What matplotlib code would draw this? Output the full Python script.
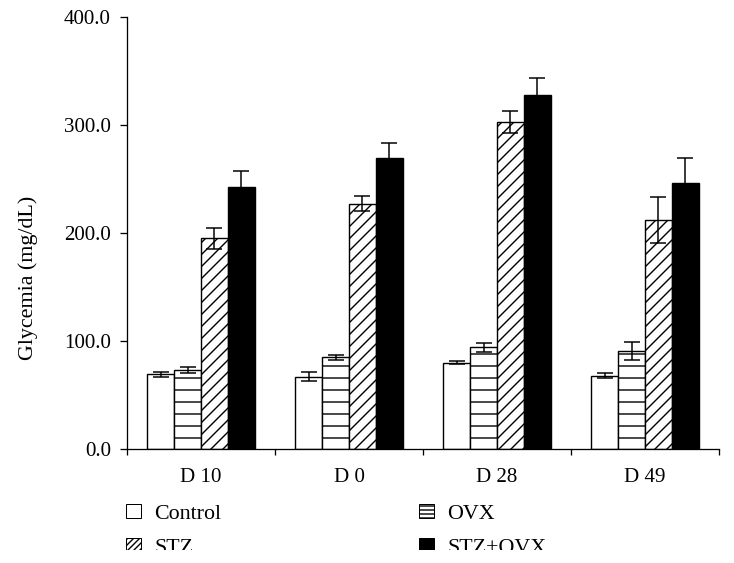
import numpy as np
import matplotlib
matplotlib.use('Agg')
from matplotlib import pyplot as plt
from matplotlib.patches import Patch, Rectangle

days = ['D 10', 'D 0', 'D 28', 'D 49']
groups = ['Control', 'OVX', 'STZ', 'STZ+OVX']
control = [69, 67, 80, 68]
control_err = [2, 4, 1.5, 2]
ovx = [73, 85, 94, 91]
ovx_err = [2.5, 2.5, 4.5, 8.5]
stz = [195, 227, 303, 212]
stz_err = [9.5, 7, 10, 21]
stz_ovx = [243, 269, 328, 246]
stz_ovx_err = [14, 14, 15.5, 23]
yticks = [0, 100, 200, 300, 400]

plt.rcParams['font.family'] = ['Liberation Serif', 'DejaVu Serif']
plt.rcParams['hatch.linewidth'] = 1.4

fig = plt.figure(figsize=(734/72, 563/72), dpi=72)
ax = fig.add_axes([127/734, 114/563, 592/734, 432/563])

x = np.arange(len(days))
w = 0.182
styles = [('white', ''), ('white', '-'), ('white', '//'), ('black', '')]
vals = [control, ovx, stz, stz_ovx]
errs = [control_err, ovx_err, stz_err, stz_ovx_err]
for i in range(4):
    fc, h = styles[i]
    ax.bar(x + (i - 1.5)*w, vals[i], w, color=fc, edgecolor='black',
           linewidth=1.4, hatch=h, zorder=2)
    ax.errorbar(x + (i - 1.5)*w, vals[i], yerr=errs[i], fmt='none',
                ecolor='black', elinewidth=1.5, capsize=8, capthick=1.5, zorder=3)

ax.set_xlim(-0.5, 3.5)
ax.set_ylim(0, 400)
ax.set_yticks(yticks)
ax.set_yticklabels(['%.1f' % v for v in yticks], fontsize=21)
ax.set_xticks(x)
ax.set_xticklabels(days, fontsize=21)
ax.set_xticks(np.arange(-0.5, 4, 1), minor=True)
ax.tick_params(axis='x', which='major', length=0, pad=19)
ax.tick_params(axis='x', which='minor', length=6, width=1.3, direction='out')
ax.tick_params(axis='y', length=7, width=1.3, direction='out', pad=9)
for s in ['top', 'right']:
    ax.spines[s].set_visible(False)
for s in ['left', 'bottom']:
    ax.spines[s].set_linewidth(1.3)
ax.set_ylabel('Glycemia (mg/dL)', fontsize=22)
ax.yaxis.set_label_coords(-0.15, 0.395)

handles = [
    Patch(facecolor='white', edgecolor='black', label='Control'),
    Patch(facecolor='white', edgecolor='black', hatch='////', label='STZ'),
    Patch(facecolor='white', edgecolor='black', hatch='---', label='OVX'),
    Patch(facecolor='black', edgecolor='black', label='STZ+OVX'),
]
fig.legend(handles=handles, ncol=2, loc='upper left',
           bbox_to_anchor=(115/734, 1 - 493/563), frameon=False, fontsize=22,
           handlelength=0.68, handleheight=0.6, handletextpad=0.6,
           columnspacing=9.0, labelspacing=0.65, borderpad=0)

# bottom of the source picture is cropped
fig.patches.append(Rectangle((0, 0), 1, 13/563, transform=fig.transFigure,
                             facecolor='white', edgecolor='none', zorder=10))

plt.savefig('out.png', dpi=72)
